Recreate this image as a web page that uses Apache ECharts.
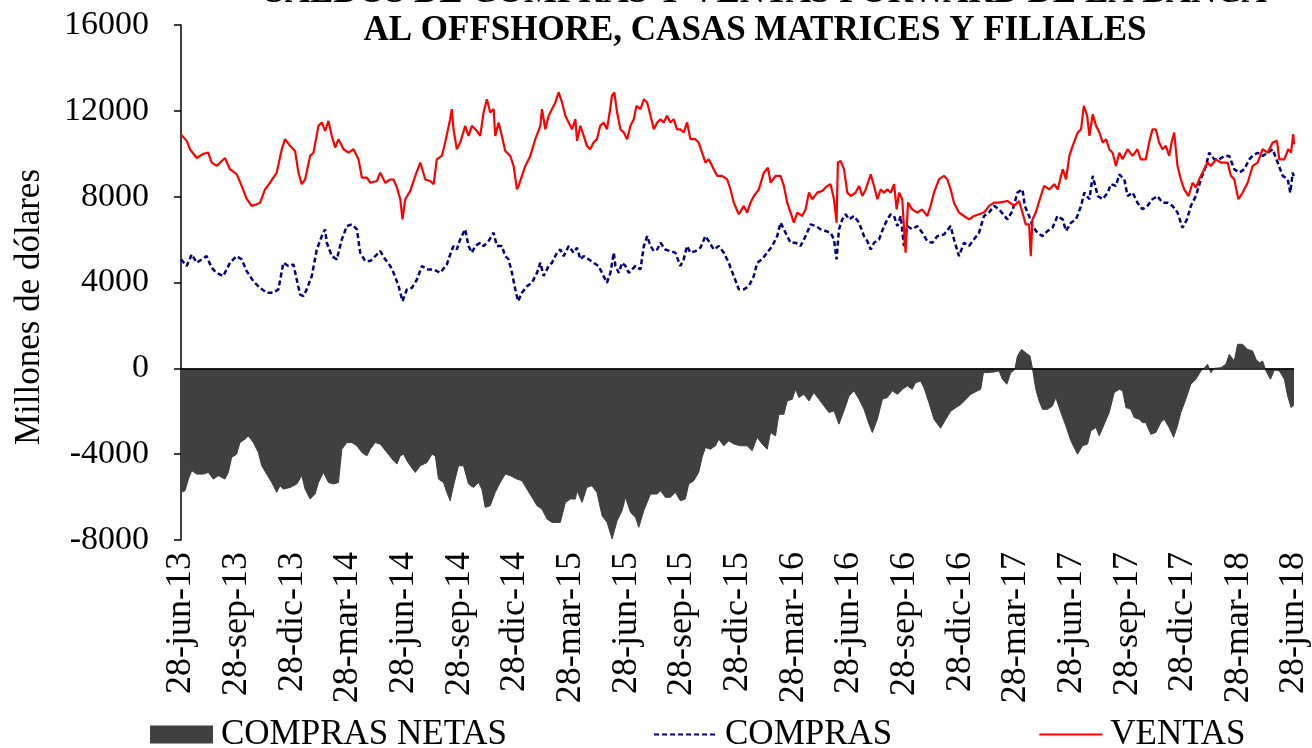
<!DOCTYPE html>
<html>
<head>
<meta charset="utf-8">
<script src="https://cdn.jsdelivr.net/npm/echarts@6/dist/echarts.min.js"></script>
<style>
  html, body { margin: 0; padding: 0; background: #fff; }
  #chart { width: 1312px; height: 748px; }
</style>
</head>
<body>
<div id="chart"></div>
<script>
// Quarterly tick labels (x axis measured in months since 28-jun-13)
const etiquetasFecha = [
  '28-jun-13','28-sep-13','28-dic-13','28-mar-14','28-jun-14','28-sep-14','28-dic-14',
  '28-mar-15','28-jun-15','28-sep-15','28-dic-15','28-mar-16','28-jun-16','28-sep-16',
  '28-dic-16','28-mar-17','28-jun-17','28-sep-17','28-dic-17','28-mar-18','28-jun-18'
];

// VENTAS: months since 28-jun-13 and balance (millones de dólares)
const mesesVentas = [
  0,0.31,0.49,0.85,1.21,1.47,1.65,1.92,2.37,2.64,3.00,3.27,3.54,3.81,4.08,4.26,4.53,4.80,5.16,5.43,
  5.61,5.88,6.15,6.33,6.51,6.69,6.96,7.14,7.41,7.59,7.77,7.95,8.13,8.31,8.49,8.76,9.03,9.30,9.57,9.75,
  10.02,10.20,10.56,10.74,11.01,11.28,11.46,11.64,11.82,11.94,12.09,12.36,12.63,12.90,13.17,13.44,13.62,13.79,14.06,14.24,
  14.51,14.60,14.69,14.87,15.05,15.32,15.50,15.68,15.95,16.13,16.31,16.49,16.67,16.85,16.94,17.12,17.30,17.48,17.75,17.93,
  18.11,18.20,18.38,18.56,18.83,19.10,19.37,19.46,19.64,19.82,20.00,20.18,20.36,20.54,20.72,20.90,21.08,21.26,21.35,21.53,
  21.71,21.88,22.06,22.24,22.42,22.60,22.78,22.96,23.11,23.23,23.36,23.51,23.69,23.87,24.05,24.23,24.41,24.55,24.77,24.95,
  25.13,25.31,25.49,25.67,25.85,26.02,26.20,26.38,26.56,26.74,26.92,27.10,27.28,27.46,27.73,27.91,28.09,28.27,28.45,28.72,
  28.90,29.17,29.44,29.62,29.80,30.07,30.34,30.52,30.70,30.88,31.15,31.42,31.64,31.79,32.05,32.32,32.50,32.68,32.86,33.04,
  33.22,33.49,33.67,33.85,34.03,34.30,34.57,34.84,35.02,35.20,35.34,35.41,35.56,35.74,35.92,36.10,36.37,36.55,36.73,36.91,
  37.18,37.36,37.54,37.72,37.90,38.08,38.26,38.44,38.58,38.71,38.88,39.06,39.19,39.42,39.69,39.96,40.23,40.41,40.59,40.86,
  41.13,41.31,41.49,41.67,41.94,42.21,42.48,42.75,43.02,43.29,43.56,43.83,44.10,44.55,44.91,45.18,45.36,45.54,45.72,45.81,
  45.90,46.08,46.35,46.53,46.81,47.08,47.26,47.53,47.71,47.89,48.07,48.34,48.52,48.67,48.85,48.97,49.15,49.33,49.51,49.69,
  49.87,50.04,50.22,50.40,50.58,50.76,51.03,51.30,51.56,51.74,52.01,52.19,52.37,52.55,52.73,52.91,53.09,53.27,53.40,53.54,
  53.72,53.90,54.08,54.32,54.53,54.71,54.89,55.16,55.34,55.52,55.79,56.06,56.42,56.60,56.78,57.00,57.23,57.50,57.77,58.04,
  58.31,58.58,58.85,59.08,59.21,59.48,59.69,59.84,59.96,60.00
];
const ventas = [
  10900,10600,10200,9800,10000,10050,9600,9430,9800,9280,9050,8500,7900,7570,7650,7720,8340,8650,9120,10200,
  10680,10370,10130,9120,8580,8800,9900,10050,11300,11460,11070,11530,10830,10290,10680,10210,10050,10210,9740,8890,
  8890,8650,8730,9120,8650,8800,8800,8420,7880,6940,7880,8270,8970,9590,8800,8730,8580,9740,9900,10520,
  11610,12080,11140,10210,10520,11300,10830,11300,11070,10830,11920,12540,11920,12080,10830,11460,10830,10130,9900,9430,
  8340,8500,8970,9430,9900,10680,11300,12080,11140,11770,12080,12390,12860,12390,11770,11460,11140,11610,10600,11300,
  10830,10370,10210,10520,10680,11300,11460,11140,11920,12700,12860,11920,11140,10990,10680,11300,11610,12230,12080,12540,
  12390,11770,11140,11460,11610,11460,11770,11460,11610,11140,11140,10990,11460,10680,10680,10520,10050,9590,9740,9280,
  8970,8970,8810,8350,7720,7180,7570,7260,7720,8030,8340,9120,9350,8650,8970,8970,8500,7720,7260,6790,
  7260,7100,7410,8190,7880,8190,8270,8500,8580,7880,6790,9590,9670,9280,8190,8030,8190,8500,8030,8340,
  9040,8500,7880,8340,8190,8340,8190,8580,7410,8190,7880,5390,7720,7410,7260,7410,7100,7570,8190,8810,
  8970,8810,8340,7720,7260,7100,6940,7100,7180,7260,7570,7720,7720,7800,7570,7800,7260,6710,6710,5230,
  6940,7260,8030,8500,8340,8580,8340,9280,8810,9900,10370,10990,11140,12230,11770,10830,11840,11300,10990,10520,
  10680,10210,10050,9430,10050,9740,10210,9900,10210,9740,9740,10520,11140,11140,10520,10210,10370,9900,10520,10990,
  9430,8810,8340,8030,8650,8420,8810,9280,9590,9430,9740,9590,9590,8970,8810,7880,8190,8650,9430,9590,
  10210,10050,10520,10600,9740,9740,10210,10050,10910,10440
];

// COMPRAS: months since 28-jun-13 and balance (millones de dólares)
const mesesCompras = [
  0,0.31,0.58,0.85,1.12,1.38,1.65,1.92,2.28,2.64,3.00,3.27,3.54,3.90,4.26,4.62,4.98,5.25,5.52,5.79,
  6.06,6.24,6.42,6.60,6.78,7.05,7.32,7.59,7.77,7.86,8.13,8.40,8.67,8.94,9.21,9.48,9.66,9.93,10.20,10.47,
  10.74,11.01,11.28,11.46,11.73,11.94,12.18,12.45,12.72,12.99,13.26,13.62,13.97,14.33,14.51,14.69,14.87,15.05,15.32,15.50,
  15.68,15.86,16.13,16.31,16.58,16.85,17.03,17.30,17.48,17.66,17.84,18.02,18.17,18.38,18.65,18.92,19.19,19.37,19.55,19.82,
  20.00,20.27,20.45,20.63,20.90,21.17,21.35,21.53,21.71,21.98,22.24,22.51,22.78,22.96,23.15,23.33,23.42,23.60,23.78,23.96,
  24.14,24.32,24.50,24.77,24.95,25.13,25.31,25.49,25.67,25.85,26.11,26.38,26.65,26.92,27.10,27.28,27.46,27.73,28.00,28.27,
  28.45,28.72,28.99,29.26,29.53,29.62,29.80,30.07,30.34,30.61,30.88,31.06,31.33,31.60,31.87,32.14,32.32,32.50,32.68,32.86,
  33.13,33.40,33.67,33.94,34.21,34.48,34.75,35.02,35.20,35.34,35.47,35.65,35.83,36.01,36.28,36.55,36.82,37.00,37.18,37.36,
  37.63,37.90,38.08,38.26,38.44,38.62,38.80,38.97,39.15,39.42,39.69,39.96,40.23,40.50,40.77,41.13,41.49,41.67,41.94,42.21,
  42.48,42.75,43.02,43.29,43.56,43.83,44.10,44.55,44.82,45.09,45.36,45.49,45.72,45.90,46.17,46.44,46.71,46.98,47.25,47.53,
  47.71,47.98,48.25,48.52,48.70,48.97,49.15,49.42,49.69,49.96,50.13,50.40,50.58,50.85,51.03,51.30,51.56,51.83,52.10,52.37,
  52.64,52.91,53.18,53.45,53.72,53.99,54.23,54.44,54.71,54.98,55.25,55.43,55.70,55.97,56.24,56.51,56.78,57.05,57.32,57.59,
  57.77,58.04,58.31,58.58,58.85,59.12,59.39,59.66,59.80,59.93,60.00
];
const compras = [
  5080,4770,5310,4920,5080,5230,4690,4450,4300,4920,5230,5080,4530,4060,3750,3520,3520,3680,4920,4770,
  4840,4140,3440,3370,3680,4300,5540,6160,6480,5850,5230,5080,6010,6630,6710,6480,5390,5000,5000,5230,
  5460,5080,4770,4450,3830,3130,3680,3750,4140,4770,4610,4610,4450,4840,5300,5700,5540,6010,6480,5700,
  5390,5700,5850,5700,5930,6320,5700,5700,5230,5080,4450,3680,3130,3520,3830,3990,4450,4920,4300,4770,
  4920,5390,5540,5230,5700,5390,5620,5080,5230,5080,4920,4770,4300,3990,4450,5390,4770,4450,4920,4770,
  4450,4610,4770,4610,5700,6160,5700,5460,5540,5850,5540,5460,5390,4770,5080,5700,5390,5460,5620,6160,
  5930,5540,5700,5390,4920,4700,4300,3680,3680,3830,4300,4920,5080,5390,5700,6160,6790,6480,6160,5850,
  5850,5700,6160,6710,6630,6480,6400,6320,6010,5080,6480,6940,7180,6940,7100,6790,6160,5930,5540,5850,
  6010,6630,6940,7180,7100,6630,7100,5700,6630,6480,6630,6320,5930,5850,6160,6240,6630,6010,5230,5850,
  5700,6010,6320,7100,7260,7570,7410,6940,7330,8190,8340,7570,7100,6630,6320,6160,6400,6550,7100,6940,
  6400,6790,6940,7570,8190,7880,8970,8030,7880,8190,8580,8500,9040,8810,8030,8190,7720,7410,7570,7880,
  8030,7720,7720,7570,7260,6550,6940,7570,8030,8810,9430,10050,9740,9740,9900,9900,9280,9120,9280,9740,
  9900,10050,9900,10050,10210,9590,8970,8810,8190,9120,8880
];

// COMPRAS NETAS: months since 28-jun-13 and net balance (millones de dólares)
const mesesNetas = [
  0,0.22,0.40,0.58,0.85,1.21,1.47,1.74,2.01,2.37,2.55,2.73,3.00,3.18,3.45,3.63,3.90,4.17,4.35,4.62,
  4.89,5.16,5.34,5.52,5.88,6.24,6.51,6.69,6.96,7.23,7.41,7.68,7.95,8.22,8.49,8.67,8.94,9.21,9.48,9.75,
  10.02,10.20,10.47,10.74,11.10,11.46,11.64,11.82,12.00,12.18,12.36,12.63,12.90,13.26,13.53,13.71,13.88,14.15,14.33,14.51,
  14.69,14.96,15.23,15.50,15.77,16.04,16.22,16.40,16.67,16.94,17.21,17.48,17.75,18.11,18.38,18.65,18.92,19.19,19.46,19.73,
  20.00,20.27,20.45,20.72,20.99,21.26,21.35,21.62,21.88,22.15,22.42,22.70,22.97,23.24,23.51,23.78,23.96,24.23,24.50,24.68,
  24.95,25.31,25.67,25.85,26.11,26.38,26.65,26.92,27.19,27.37,27.64,27.91,28.09,28.27,28.54,28.81,28.99,29.26,29.53,29.81,
  30.16,30.52,30.79,31.06,31.33,31.60,31.78,32.05,32.23,32.50,32.68,32.95,33.13,33.31,33.58,33.85,34.12,34.39,34.66,34.93,
  35.20,35.47,35.74,36.01,36.28,36.55,36.82,37.09,37.27,37.54,37.81,38.08,38.35,38.62,38.89,39.16,39.42,39.60,39.87,40.05,
  40.32,40.59,40.95,41.22,41.49,41.76,42.03,42.30,42.57,42.93,43.11,43.26,43.47,43.83,44.10,44.28,44.52,44.73,44.95,45.09,
  45.31,45.54,45.77,45.90,46.08,46.26,46.44,46.71,46.98,47.16,47.43,47.70,47.97,48.33,48.60,48.87,49.05,49.32,49.50,49.77,
  50.04,50.31,50.58,50.76,50.94,51.20,51.38,51.65,51.83,52.01,52.28,52.55,52.82,53.00,53.27,53.51,53.72,53.90,54.17,54.44,
  54.71,54.98,55.16,55.34,55.52,55.70,56.06,56.33,56.51,56.78,56.96,57.23,57.50,57.77,57.95,58.13,58.31,58.49,58.73,58.94,
  59.21,59.48,59.66,59.84,60.00
];
const comprasNetas = [
  -5780,-5700,-5160,-4770,-4930,-4930,-4850,-5160,-5000,-5160,-4850,-4150,-4000,-3460,-3300,-3150,-3460,-3920,-4540,-4930,
  -5320,-5780,-5470,-5630,-5550,-5390,-5000,-5630,-6090,-5860,-5320,-4850,-5320,-5390,-5320,-3770,-3460,-3460,-3610,-3920,
  -4080,-3770,-3460,-3530,-3920,-4310,-4460,-4080,-4000,-4310,-4540,-4850,-4540,-4390,-4000,-4080,-5160,-5320,-5780,-6170,
  -5470,-4540,-4540,-5390,-5550,-5320,-5630,-6480,-6400,-5780,-5320,-4930,-5000,-5160,-5240,-5630,-6010,-6400,-6560,-7020,
  -7180,-7180,-7180,-6250,-6090,-6090,-5700,-6250,-5550,-5470,-5780,-6870,-7180,-7950,-7100,-6630,-6010,-6710,-6940,-7410,
  -6630,-5860,-5860,-5700,-6010,-6010,-5780,-6170,-6090,-5390,-5240,-4850,-4150,-3690,-3770,-3610,-3300,-3610,-3380,-3530,
  -3610,-3610,-3840,-3220,-3530,-3770,-2990,-3150,-2140,-2140,-1520,-1440,-980,-1360,-1210,-1520,-1130,-1440,-1750,-2060,
  -1980,-2600,-1980,-1290,-1050,-1440,-1910,-2600,-2990,-2370,-1440,-1360,-1050,-1210,-980,-820,-980,-670,-590,-900,
  -1600,-2370,-2790,-2390,-2000,-1840,-1690,-1460,-1220,-1050,-980,-200,-200,-170,-120,-510,-740,-200,-50,570,
  880,730,570,0,-980,-1520,-1910,-1910,-1750,-1360,-2060,-2680,-3380,-4000,-3610,-3530,-2910,-2760,-3150,-2600,
  -2060,-1130,-980,-1050,-1830,-1910,-2290,-2370,-2530,-2530,-3070,-2990,-2530,-2370,-2760,-3220,-2680,-2060,-1440,-740,
  -510,-120,0,190,-200,0,30,190,650,340,1120,1120,880,810,420,260,340,-120,-510,-80,
  -120,-510,-1290,-1830,-1700
];

const pares = (xs, ys) => ys.map((v, i) => [xs[i], v]);
const serif = '"Liberation Serif", "DejaVu Serif", serif';

const chart = echarts.init(document.getElementById('chart'), null, { renderer: 'canvas' });

chart.setOption({
  animation: false,
  backgroundColor: '#ffffff',
  textStyle: { fontFamily: serif, color: '#000' },
  grid: { left: 181, right: 17, top: 25, bottom: 208, containLabel: false },
  graphic: [
    {
      // first title line, mostly above the top edge of the canvas
      type: 'text', x: 766, y: -7,
      style: {
        text: 'SALDOS DE COMPRAS Y VENTAS FORWARD DE LA BANCA',
        font: 'bold 35px ' + serif, fill: '#000',
        textAlign: 'center', textVerticalAlign: 'middle'
      }
    },
    {
      type: 'text', x: 755, y: 31,
      style: {
        text: 'AL OFFSHORE, CASAS MATRICES Y FILIALES',
        font: 'bold 35px ' + serif, fill: '#000',
        textAlign: 'center', textVerticalAlign: 'middle'
      }
    },
    {
      type: 'text', x: 30, y: 307, rotation: Math.PI / 2,
      style: {
        text: 'Millones de dólares',
        font: '35px ' + serif, fill: '#000',
        textAlign: 'center', textVerticalAlign: 'middle'
      }
    }
  ],
  legend: {
    left: 145, top: 712,
    itemWidth: 63, itemHeight: 18, itemGap: 146,
    textStyle: { fontFamily: serif, fontSize: 35, color: '#000', padding: [0, 0, 0, 3] },
    data: [
      { name: 'COMPRAS NETAS', icon: 'rect' },
      { name: 'COMPRAS', itemStyle: { opacity: 0 } },
      { name: 'VENTAS', itemStyle: { opacity: 0 } }
    ]
  },
  xAxis: {
    type: 'value', min: 0, max: 60, interval: 3,
    axisLine: { show: false, onZero: false },
    axisTick: { show: false },
    splitLine: { show: false },
    axisLabel: {
      rotate: 90, fontFamily: serif, fontSize: 36, color: '#000', margin: 12,
      showMinLabel: true, showMaxLabel: true,
      formatter: (v) => etiquetasFecha[Math.round(v / 3)] || ''
    }
  },
  yAxis: {
    type: 'value', min: -8000, max: 16000, interval: 4000,
    axisLine: { show: true, lineStyle: { color: '#000', width: 1.5 } },
    axisTick: { show: true, length: 7, lineStyle: { color: '#000', width: 1.5 } },
    splitLine: { show: false },
    axisLabel: {
      fontFamily: serif, fontSize: 34, color: '#000', margin: 32,
      formatter: (v) => String(v)
    }
  },
  series: [
    {
      name: 'COMPRAS NETAS', type: 'line', symbol: 'none', z: 1,
      data: pares(mesesNetas, comprasNetas),
      lineStyle: { color: '#404040', width: 1 },
      itemStyle: { color: '#404040' },
      areaStyle: { color: '#404040', opacity: 1 },
      markLine: {
        silent: true, symbol: 'none', animation: false,
        label: { show: false },
        lineStyle: { color: '#000', width: 1.5, type: 'solid' },
        data: [{ yAxis: 0 }]
      }
    },
    {
      name: 'COMPRAS', type: 'line', symbol: 'none', z: 2,
      data: pares(mesesCompras, compras),
      lineStyle: { color: '#00007f', width: 2.5, type: [5, 3] },
      itemStyle: { color: '#00007f' }
    },
    {
      name: 'VENTAS', type: 'line', symbol: 'none', z: 3,
      data: pares(mesesVentas, ventas),
      lineStyle: { color: '#ff0000', width: 2.2 },
      itemStyle: { color: '#ff0000' }
    }
  ]
});
</script>
</body>
</html>
